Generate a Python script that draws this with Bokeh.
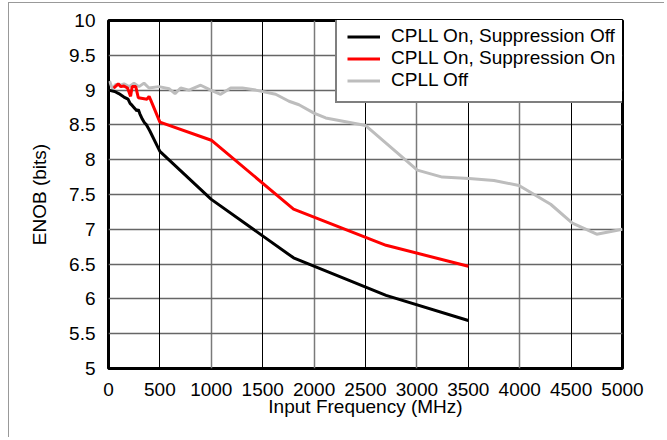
from bokeh.plotting import figure
from bokeh.models import FixedTicker, Grid, Legend, LegendItem, Range1d
from bokeh.embed import file_html
from bokeh.resources import INLINE

# ---- data ----
off_freq = [0, 60, 100, 150, 190, 210, 230, 260, 275, 290, 305, 330, 350, 370, 400,
            500, 1000, 1800, 2700, 3500]
off_enob = [9.0, 8.98, 8.95, 8.9, 8.87, 8.81, 8.78, 8.73, 8.70, 8.72, 8.66, 8.58, 8.53,
            8.5, 8.42, 8.12, 7.43, 6.59, 6.05, 5.69]

on_freq = [50, 95, 120, 150, 185, 215, 230, 265, 290, 375, 395, 410, 500, 1000, 1800,
           2700, 3500]
on_enob = [9.03, 9.09, 9.05, 9.06, 9.03, 8.91, 9.05, 9.05, 8.89, 8.87, 8.91, 8.86, 8.54,
           8.28, 7.29, 6.77, 6.47]

cpll_off_freq = [10, 37, 70, 119, 151, 200, 248, 297, 345, 394, 491, 589, 647, 702, 783,
                 897, 994, 1091, 1189, 1302, 1432, 1626, 1756, 1853, 1999, 2113, 2502,
                 3004, 3247, 3507, 3750, 3993, 4301, 4512, 4749, 5000]
cpll_off_enob = [9.13, 9.02, 9.08, 9.07, 9.09, 9.05, 9.10, 9.05, 9.10, 9.03, 9.05, 9.02,
                 8.95, 9.03, 9.0, 9.07, 9.0, 8.94, 9.03, 9.03, 9.0, 8.94, 8.84, 8.79,
                 8.67, 8.60, 8.49, 7.85, 7.75, 7.73, 7.70, 7.63, 7.36, 7.09, 6.93, 7.0]

series_names = ["CPLL On, Suppression Off", "CPLL On, Suppression On", "CPLL Off"]

x_ticks = [0, 500, 1000, 1500, 2000, 2500, 3000, 3500, 4000, 4500, 5000]
y_ticks = [5, 5.5, 6, 6.5, 7, 7.5, 8, 8.5, 9, 9.5, 10]
y_tick_labels = ["5", "5.5", "6", "6.5", "7", "7.5", "8", "8.5", "9", "9.5", "10"]

FONT = "Liberation Sans"
FS = "19px"

p = figure(width=656, height=435, output_backend="svg", toolbar_location=None,
           x_range=Range1d(0, 5000), y_range=Range1d(5, 10),
           min_border_left=99, min_border_right=43, min_border_top=17,
           min_border_bottom=70)
p.styles = {"border-left": "1px solid #999", "border-top": "1px solid #999",
            "margin-left": "8px", "margin-top": "2px"}

p.outline_line_color = "black"
p.outline_line_width = 3
p.background_fill_color = "white"
p.border_fill_color = "white"

for ax in (p.xaxis[0], p.yaxis[0]):
    ax.axis_line_color = None
    ax.major_tick_line_color = None
    ax.minor_tick_line_color = None
    ax.major_label_text_font = FONT
    ax.major_label_text_font_size = FS
    ax.major_label_text_color = "black"
    ax.axis_label_text_font = FONT
    ax.axis_label_text_font_size = FS
    ax.axis_label_text_font_style = "normal"
    ax.axis_label_text_color = "black"

p.xaxis.ticker = FixedTicker(ticks=x_ticks)
p.yaxis.ticker = FixedTicker(ticks=y_ticks)
p.yaxis.major_label_overrides = {t: s for t, s in zip(y_ticks, y_tick_labels)}
p.xaxis.major_label_standoff = 8
p.yaxis.major_label_standoff = 7
p.xaxis.axis_label = "Input Frequency (MHz)"
p.yaxis.axis_label = "ENOB (bits)"
p.xaxis.axis_label_standoff = -3
p.yaxis.axis_label_standoff = 16

# grids
p.ygrid.ticker = FixedTicker(ticks=y_ticks[1:-1])
p.ygrid.grid_line_color = "#666666"
p.ygrid.grid_line_width = 1.4
p.xgrid.ticker = FixedTicker(ticks=[t for t in x_ticks[1:-1] if t % 1000 == 0])
p.xgrid.grid_line_color = "#7a7a7a"
p.xgrid.grid_line_width = 1.5
g2 = Grid(dimension=0, ticker=FixedTicker(ticks=[t for t in x_ticks[1:-1] if t % 1000 != 0]),
          grid_line_color="black", grid_line_width=1)
p.add_layout(g2)

r_gray = p.line(cpll_off_freq, cpll_off_enob, line_color="#bdbdbd", line_width=3)
r_red = p.line(on_freq, on_enob, line_color="#ff0000", line_width=3)
r_black = p.line(off_freq, off_enob, line_color="black", line_width=3)

legend = Legend(items=[LegendItem(label=series_names[0], renderers=[r_black]),
                       LegendItem(label=series_names[1], renderers=[r_red]),
                       LegendItem(label=series_names[2], renderers=[r_gray])],
                location=(227, 265))
legend.label_text_font = FONT
legend.label_text_font_size = FS
legend.label_text_color = "black"
legend.border_line_color = "black"
legend.border_line_width = 2.5
legend.background_fill_alpha = 1
legend.padding = 10
legend.margin = 0
legend.spacing = 0
legend.label_height = 21
legend.glyph_height = 21
legend.glyph_width = 33
legend.label_standoff = 11
p.add_layout(legend, "center")

open("out.html", "w").write(file_html(p, INLINE))
